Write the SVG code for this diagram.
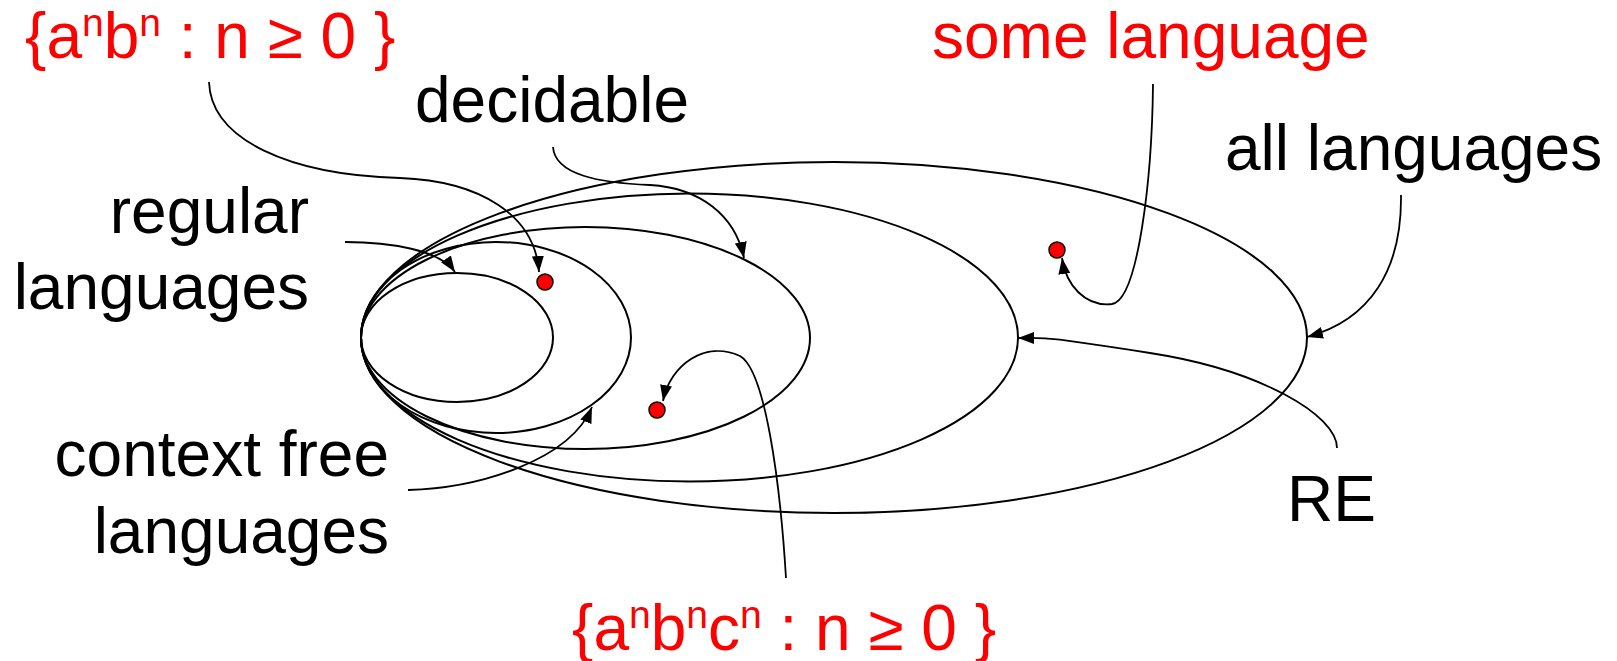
<svg xmlns="http://www.w3.org/2000/svg" width="1617" height="661" viewBox="0 0 1617 661">
<style>
.set{fill:none;stroke:#000;stroke-width:2}
.con{fill:none;stroke:#000;stroke-width:1.8}
.dot{fill:#ff0000;stroke:#000;stroke-width:1.5}
.lbl{font-family:"Liberation Sans",Arial,sans-serif;font-size:64px;fill:#000}
.red{fill:#ff0000}
.sup{font-size:39px}
</style>
<defs>
<marker id="arr" viewBox="0 0 16 12" refX="16" refY="6" markerWidth="16" markerHeight="12" markerUnits="userSpaceOnUse" orient="auto">
<path d="M0,0 L16,6 L0,12 z" fill="#000"/>
</marker>
</defs>
<rect width="1617" height="661" fill="#fff"/>
<g id="all-languages"><ellipse class="set" cx="834" cy="337.5" rx="473" ry="175.5"/></g>
<g id="re"><ellipse class="set" cx="689.5" cy="337.5" rx="328.5" ry="144"/></g>
<g id="decidable"><ellipse class="set" cx="585.5" cy="338" rx="224.5" ry="111"/></g>
<g id="context-free"><ellipse class="set" cx="496" cy="337.5" rx="135" ry="95.5"/></g>
<g id="regular"><ellipse class="set" cx="457" cy="337.5" rx="96" ry="64.5"/></g>
<g id="dot-anbn"><circle class="dot" cx="545" cy="282" r="8"/></g>
<g id="dot-anbncn"><circle class="dot" cx="657" cy="410" r="8"/></g>
<g id="dot-some"><circle class="dot" cx="1057" cy="250" r="8"/></g>
<g id="connectors">
<path class="con" marker-end="url(#arr)" d="M209,82 C211,140 290,175 400,178 C480,181 535,215 539,272"/>
<path class="con" marker-end="url(#arr)" d="M553,147 C555,175 600,183 650,185 C700,188 735,215 744,258"/>
<path class="con" marker-end="url(#arr)" d="M345,242 C390,242 440,250 455,272"/>
<path class="con" marker-end="url(#arr)" d="M408,490 C480,488 570,460 592,407"/>
<path class="con" marker-end="url(#arr)" d="M1153,84 C1152,180 1138,300 1112,304 C1085,307 1066,285 1062,258"/>
<path class="con" marker-end="url(#arr)" d="M1401,195 C1402,270 1370,320 1307,337"/>
<path class="con" marker-end="url(#arr)" d="M1337,448 C1337,415 1260,370 1150,353 S1050,338 1018,338"/>
<path class="con" marker-end="url(#arr)" d="M786,578 C780,480 765,370 740,356 C705,340 670,365 663,401"/>
</g>
<g id="label-anbn"><text class="lbl red" x="25" y="58">{a<tspan class="sup" dy="-22">n</tspan><tspan dy="22">b</tspan><tspan class="sup" dy="-22">n</tspan><tspan dy="22"> : n ≥ 0 }</tspan></text></g>
<g id="label-some"><text class="lbl red" x="932" y="58">some language</text></g>
<g id="label-decidable"><text class="lbl" x="415" y="122">decidable</text></g>
<g id="label-regular"><text class="lbl" text-anchor="end" x="309" y="233">regular</text><text class="lbl" text-anchor="end" x="309" y="309">languages</text></g>
<g id="label-all"><text class="lbl" x="1225" y="170">all languages</text></g>
<g id="label-cf"><text class="lbl" text-anchor="end" x="389" y="476">context free</text><text class="lbl" text-anchor="end" x="389" y="553">languages</text></g>
<g id="label-re"><text class="lbl" x="1287" y="521">RE</text></g>
<g id="label-anbncn"><text class="lbl red" x="572" y="650">{a<tspan class="sup" dy="-22">n</tspan><tspan dy="22">b</tspan><tspan class="sup" dy="-22">n</tspan><tspan dy="22">c</tspan><tspan class="sup" dy="-22">n</tspan><tspan dy="22"> : n ≥ 0 }</tspan></text></g>
</svg>
